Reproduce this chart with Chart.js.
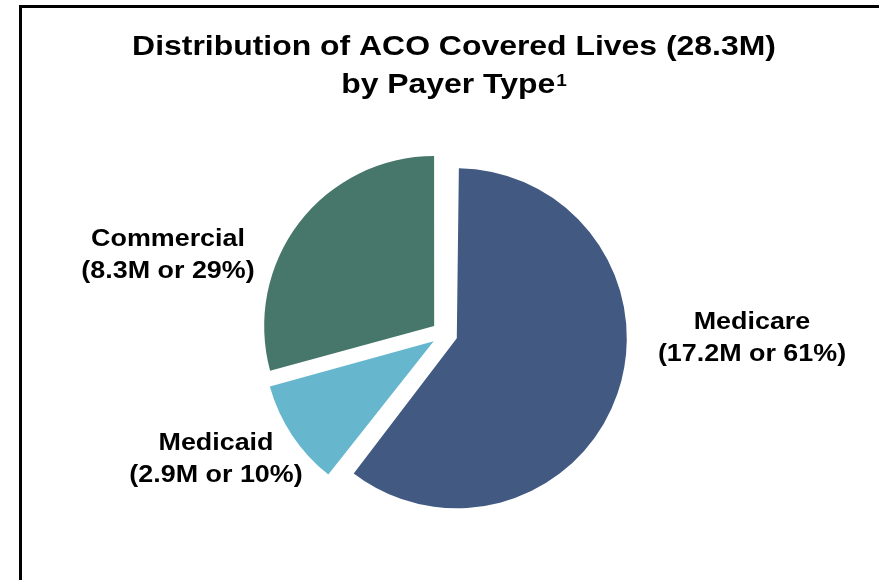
<!DOCTYPE html>
<html>
<head>
<meta charset="utf-8">
<title>ACO Covered Lives by Payer Type</title>
<script src="https://cdn.jsdelivr.net/npm/chart.js@4.4.1/dist/chart.umd.min.js"></script>
<style>
  html, body { margin: 0; padding: 0; background: #fff; }
  canvas { display: block; }
</style>
</head>
<body>
<canvas id="chart" width="879" height="580"></canvas>
<script>
const payers = ['Medicare', 'Medicaid', 'Commercial']
const livesMillions = [17.2, 2.9, 8.3]
const sliceColors = ['#425a82', '#66b7ce', '#47776a']
const titleLines = ['Distribution of ACO Covered Lives (28.3M)', 'by Payer Type']
const titleNote = '1'

const FONT = '"Liberation Sans", Arial, sans-serif'
const TEXT_STRETCH = 1.12
const SLICE_RADIUS = 170
const SLICE_OFFSET = 52 // chart.js moves an arc by offset / 4

// label centre (x, first baseline) for each payer
const labelSpots = {
  Medicare: [752, 329],
  Medicaid: [216, 450],
  Commercial: [168, 246]
}

function percentOf (value) {
  const total = livesMillions.reduce((a, b) => a + b, 0)
  return Math.round(value / total * 100)
}

function drawText (ctx, text, x, y, size, align, stretch = TEXT_STRETCH) {
  ctx.save()
  ctx.translate(x, y)
  ctx.scale(stretch, 1)
  ctx.font = `bold ${size}px ${FONT}`
  ctx.fillStyle = '#000'
  ctx.textAlign = align
  ctx.textBaseline = 'alphabetic'
  ctx.fillText(text, 0, 0)
  ctx.restore()
}

function textWidth (ctx, text, size, stretch = TEXT_STRETCH) {
  ctx.save()
  ctx.font = `bold ${size}px ${FONT}`
  const w = ctx.measureText(text).width * stretch
  ctx.restore()
  return w
}

// offset also grows the outer radius of wide arcs, keep all slices the same size
const evenRadius = {
  id: 'evenRadius',
  afterDatasetUpdate (chart, args) {
    args.meta.data.forEach(arc => {
      const fix = 1 - Math.sin(Math.min(Math.PI, arc.circumference))
      arc.outerRadius = SLICE_RADIUS - SLICE_OFFSET / 4 * fix
    })
  }
}

const frameAndText = {
  id: 'frameAndText',
  afterDraw (chart) {
    const ctx = chart.ctx

    ctx.save()
    ctx.strokeStyle = '#000'
    ctx.lineWidth = 3
    ctx.strokeRect(20.5, 6.5, 1000, 1000)
    ctx.restore()

    // two-line title, footnote marker raised after the second line
    drawText(ctx, titleLines[0], 454, 55, 28, 'center', 1.14)
    const mainW = textWidth(ctx, titleLines[1], 28, 1.14)
    const noteW = textWidth(ctx, titleNote, 17)
    const startX = 454 - (mainW + noteW + 1) / 2
    drawText(ctx, titleLines[1], startX, 93, 28, 'left', 1.14)
    drawText(ctx, titleNote, startX + mainW + 1, 86, 17, 'left')

    payers.forEach((name, i) => {
      const [x, y] = labelSpots[name]
      const value = livesMillions[i]
      drawText(ctx, name, x, y, 24, 'center')
      drawText(ctx, `(${value}M or ${percentOf(value)}%)`, x, y + 32, 24, 'center')
    })
  }
}

new Chart(document.getElementById('chart'), {
  type: 'pie',
  data: {
    labels: payers,
    datasets: [{
      data: livesMillions,
      backgroundColor: sliceColors,
      borderWidth: 0,
      offset: SLICE_OFFSET,
      radius: SLICE_RADIUS
    }]
  },
  options: {
    responsive: false,
    devicePixelRatio: 1,
    animation: false,
    events: [],
    layout: { padding: { left: 10, right: 0, top: 88, bottom: 0 } },
    plugins: {
      legend: { display: false },
      tooltip: { enabled: false },
      title: { display: false }
    }
  },
  plugins: [evenRadius, frameAndText]
})
</script>
</body>
</html>
